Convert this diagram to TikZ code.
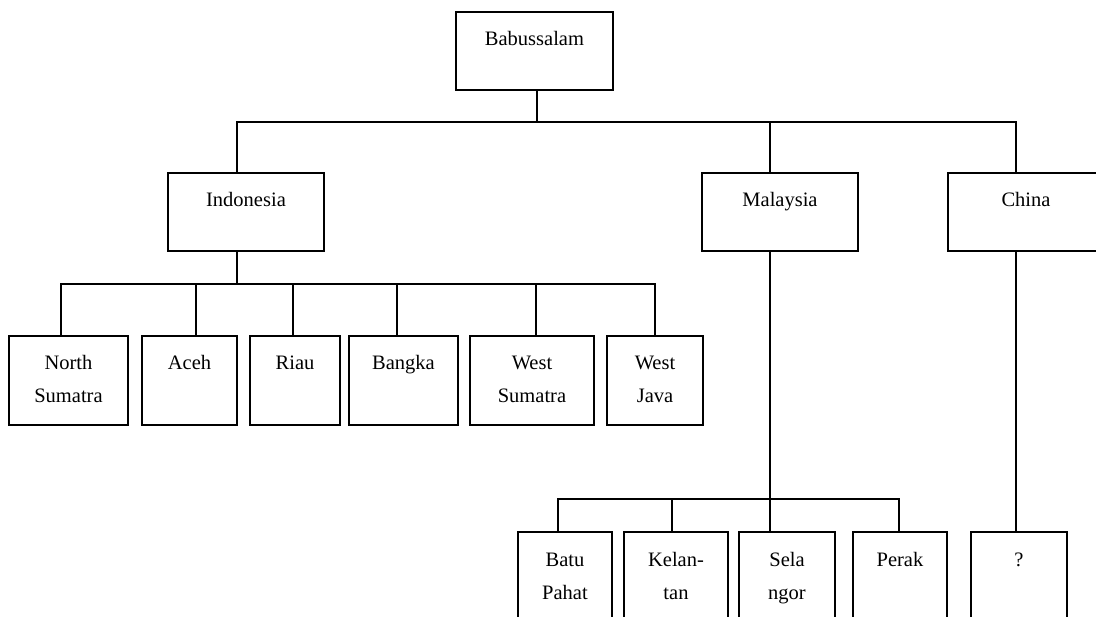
\documentclass[tikz,border=0pt]{standalone}
\usepackage{fontspec}
\setmainfont{Liberation Serif}
\newcommand\twoln[2]{\begin{tabular}[t]{@{}c@{}}#1\\#2\end{tabular}}
\begin{document}
\begin{tikzpicture}[x=1pt,y=-1pt,line width=1.4pt,
  orgbox/.style={draw, anchor=north west, inner xsep=0pt, inner ysep=0pt, outer sep=0pt,
    font=\fontsize{20.5}{33}\selectfont, text height=34pt},
  toprow/.style={orgbox, text depth=44pt},
  midrow/.style={orgbox, text depth=55pt},
  lowrow/.style={orgbox, text depth=70pt}]
\useasboundingbox (0,0) rectangle (1096,617);
\clip (0,0) rectangle (1096,617);
% boxes
\node[toprow, minimum width=157pt] (bab) at (456,12) {Babussalam};
\node[toprow, minimum width=156pt] (ind) at (168,173) {Indonesia};
\node[toprow, minimum width=156pt] (mal) at (702,173) {Malaysia};
\node[toprow, minimum width=156pt] (chn) at (948,173) {China};
\node[midrow, minimum width=119pt] (ns) at (9,336) {\twoln{North}{Sumatra}};
\node[midrow, minimum width=95pt]  (ac) at (142,336) {Aceh};
\node[midrow, minimum width=90pt]  (ri) at (250,336) {Riau};
\node[midrow, minimum width=109pt] (ba) at (349,336) {Bangka};
\node[midrow, minimum width=124pt] (ws) at (470,336) {\twoln{West}{Sumatra}};
\node[midrow, minimum width=96pt]  (wj) at (607,336) {\twoln{West}{Java}};
\node[lowrow, minimum width=94pt]  (bp) at (518,532) {\twoln{Batu}{Pahat}};
\node[lowrow, minimum width=104pt] (ke) at (624,532) {\twoln{Kelan-}{tan}};
\node[lowrow, minimum width=96pt]  (se) at (739,532) {\twoln{Sela}{ngor}};
\node[lowrow, minimum width=94pt]  (pe) at (853,532) {Perak};
\node[lowrow, minimum width=96pt]  (qq) at (971,532) {?};
% junctions
\coordinate (jt) at (537,122);
\coordinate (ji) at (237,284);
\coordinate (jm) at (770,499);
% connectors top
\draw ([xshift=2.5pt]bab.south) -- (jt);
\draw ([xshift=-9pt]ind.north) |- (jt);
\draw ([xshift=-10pt]chn.north) |- (jt);
\draw ([xshift=-10pt]mal.north) -- ([xshift=-10pt]mal.north |- jt);
% Indonesia
\draw ([xshift=-9pt]ind.south) -- (ji);
\draw ([xshift=-7.5pt]ns.north) |- (ji);
\draw ([xshift=6.5pt]ac.north) |- (ji);
\draw ([xshift=-2pt]ri.north) |- (ji);
\draw ([xshift=-6.5pt]ba.north) |- (ji);
\draw ([xshift=4pt]ws.north) |- (ji);
\draw (wj.north) |- (ji);
% Malaysia
\draw ([xshift=-10pt]mal.south) -- (jm);
\draw ([xshift=-7pt]bp.north) |- (jm);
\draw ([xshift=-4pt]ke.north) |- (jm);
\draw ([xshift=-17pt]se.north) |- (jm);
\draw ([xshift=-1pt]pe.north) |- (jm);
% China
\draw ([xshift=-10pt]chn.south) -- ([xshift=-3pt]qq.north);
\end{tikzpicture}
\end{document}
